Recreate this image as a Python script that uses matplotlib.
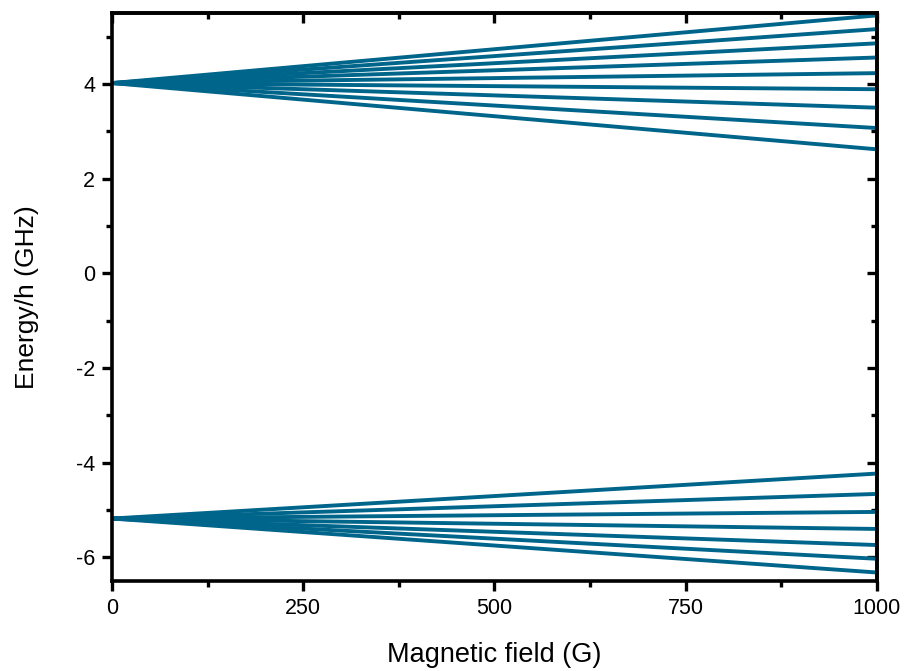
import numpy as np
import matplotlib.pyplot as plt
from matplotlib.ticker import MultipleLocator

plt.rcParams['font.family'] = ['Liberation Sans', 'DejaVu Sans']
plt.rcParams['axes.unicode_minus'] = False

# field range (G)
field = [0, 1000]

# upper hyperfine manifold (GHz): start at zero field, end at 1000 G
upper_start = 4.02
upper_end = [5.45, 5.16, 4.86, 4.56, 4.23, 3.89, 3.50, 3.07, 2.62]

# lower hyperfine manifold (GHz)
lower_start = -5.18
lower_end = [-4.23, -4.66, -5.04, -5.40, -5.74, -6.03, -6.32]

colour = "#00658a"

fig = plt.figure(figsize=(9.05, 6.71), dpi=100)
ax = fig.add_axes([0.1238, 0.1341, 0.969 - 0.1238, 0.9806 - 0.1341])

for e in upper_end:
    ax.plot(field, [upper_start, e], color=colour, lw=2.8, solid_capstyle="butt")
for e in lower_end:
    ax.plot(field, [lower_start, e], color=colour, lw=2.8, solid_capstyle="butt")

ax.set_xlim(0, 1000)
ax.set_ylim(-6.5, 5.5)
ax.xaxis.set_major_locator(MultipleLocator(250))
ax.xaxis.set_minor_locator(MultipleLocator(125))
ax.yaxis.set_major_locator(MultipleLocator(2))
ax.yaxis.set_minor_locator(MultipleLocator(1))

ax.tick_params(which="major", direction="out", length=7, width=2.4, labelsize=15.5, pad=5)
ax.tick_params(which="minor", direction="out", length=4, width=2.4)
for s in ax.spines.values():
    s.set_linewidth(2.6)

# mirrored ticks pointing inwards on top and right
top = ax.secondary_xaxis("top")
top.xaxis.set_major_locator(MultipleLocator(250))
top.xaxis.set_minor_locator(MultipleLocator(125))
top.tick_params(which="major", direction="in", length=7, width=2.4, labeltop=False)
top.tick_params(which="minor", direction="in", length=4, width=2.4)
top.spines["top"].set_linewidth(2.6)

right = ax.secondary_yaxis("right")
right.yaxis.set_major_locator(MultipleLocator(2))
right.yaxis.set_minor_locator(MultipleLocator(1))
right.tick_params(which="major", direction="in", length=7, width=2.4, labelright=False)
right.tick_params(which="minor", direction="in", length=4, width=2.4)
right.spines["right"].set_linewidth(2.6)

ax.set_xlabel("Magnetic field (G)", fontsize=19.5, labelpad=17)
ax.set_ylabel("Energy/h (GHz)", fontsize=19, labelpad=27)

plt.savefig("out.png", dpi=100)
